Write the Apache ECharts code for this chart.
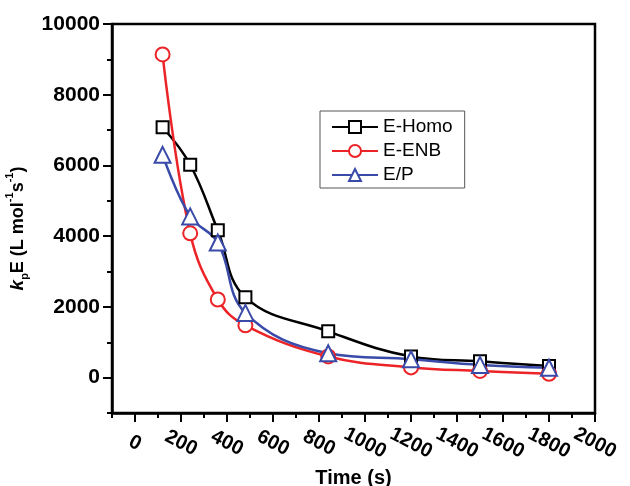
<!DOCTYPE html>
<html><head><meta charset="utf-8">
<script src="https://cdn.jsdelivr.net/npm/echarts@6/dist/echarts.min.js"></script>
<style>html,body{margin:0;padding:0;background:#fff}#c{width:630px;height:486px}</style>
</head><body><div id="c"></div>
<script>
const timeS = [120, 240, 360, 480, 840, 1200, 1500, 1800];
const eHomo = [7080, 6020, 4170, 2270, 1310, 600, 460, 330];
const eENB  = [9140, 4080, 2210, 1480, 600, 290, 190, 110];
const eP    = [6300, 4560, 3820, 1830, 690, 520, 360, 280];
const xLabelsA = [0,400,800,1200,1600,2000];
const xLabelsB = [200,600,1000,1400,1800];
const xMajor = [0,200,400,600,800,1000,1200,1400,1600,1800,2000];
const xMinor = [-100,100,300,500,700,900,1100,1300,1500,1700,1900];
const yMajor = [0,2000,4000,6000,8000,10000];
const yMinor = [-1000,1000,3000,5000,7000,9000];

const pairs = (ys) => timeS.map((t, i) => [t, ys[i]]);
const font = '"Liberation Sans", Arial, sans-serif';
const chart = echarts.init(document.getElementById('c'));
const plain = (v) => String(v);
const xLabelStyle = {rotate: -27, align: 'center', margin: 30, formatter: plain, hideOverlap: false,
  showMinLabel: true, showMaxLabel: true,
  fontFamily: font, fontWeight: 'bold', fontSize: 20, color: '#000'};
chart.setOption({
  animation: false,
  grid: {left: 112, top: 24, right: 35, bottom: 73, outerBoundsMode: 'none', containLabel: false,
    show: true, borderColor: '#000', borderWidth: 2.5, backgroundColor: 'transparent'},
  legend: {
    orient: 'vertical', left: 320, top: 111, padding: [6, 12, 3, 11],
    borderColor: '#555', borderWidth: 1, itemWidth: 46, itemHeight: 15, itemGap: 4,
    textStyle: {fontFamily: font, fontSize: 19, color: '#000', lineHeight: 20},
    data: ['E-Homo', 'E-ENB', 'E/P']
  },
  xAxis: [{
    type: 'value', min: -100, max: 2000, position: 'bottom',
    name: 'Time (s)', nameLocation: 'middle', nameGap: 51,
    nameTextStyle: {fontFamily: font, fontWeight: 'bold', fontSize: 20, color: '#000'},
    axisLine: {show: true, onZero: false, lineStyle: {color: '#000', width: 2.5}},
    axisTick: {show: true, customValues: xMajor, length: 9, lineStyle: {color: '#000', width: 2}},
    axisLabel: Object.assign({customValues: xLabelsA}, xLabelStyle),
    splitLine: {show: false}
  }, {
    type: 'value', min: -100, max: 2000, position: 'bottom',
    axisLine: {show: false, onZero: false},
    axisTick: {show: true, customValues: xMinor, length: 5, lineStyle: {color: '#000', width: 2}},
    axisLabel: Object.assign({customValues: xLabelsB}, xLabelStyle),
    splitLine: {show: false}
  }],
  yAxis: [{
    type: 'value', min: -1000, max: 10000, position: 'left',
    name: '{k|k}{sub|p}{n|E (L mol}{sup|-1}{n|s}{sup|-1}{n|)}',
    nameLocation: 'middle', nameRotate: 90, nameGap: 80,
    nameTextStyle: {
      fontFamily: font, fontWeight: 'bold', fontSize: 18, color: '#000', padding: [0, 20, 0, 0],
      rich: {
        k: {fontFamily: font, fontWeight: 'bold', fontStyle: 'italic', fontSize: 19, lineHeight: 26, verticalAlign: 'middle'},
        n: {fontFamily: font, fontWeight: 'bold', fontSize: 18, lineHeight: 26, verticalAlign: 'middle'},
        sub: {fontFamily: font, fontWeight: 'bold', fontSize: 11, lineHeight: 12, verticalAlign: 'bottom'},
        sup: {fontFamily: font, fontWeight: 'bold', fontSize: 11, lineHeight: 12, verticalAlign: 'top'}
      }
    },
    axisLine: {show: true, onZero: false, lineStyle: {color: '#000', width: 2.5}},
    axisTick: {show: true, customValues: yMajor, length: 9, lineStyle: {color: '#000', width: 2}},
    axisLabel: {customValues: yMajor, margin: 12, formatter: plain, showMaxLabel: true,
      fontFamily: font, fontWeight: 'bold', fontSize: 21, color: '#000'},
    splitLine: {show: false}
  }, {
    type: 'value', min: -1000, max: 10000, position: 'left',
    axisLine: {show: false, onZero: false},
    axisTick: {show: true, customValues: yMinor, length: 5, lineStyle: {color: '#000', width: 2}},
    axisLabel: {show: false}, splitLine: {show: false}
  }],
  series: [
    {name: 'E-Homo', type: 'line', smooth: 0.4, data: pairs(eHomo), symbol: 'rect', symbolSize: 12,
     itemStyle: {color: '#fff', borderColor: '#000', borderWidth: 2}, lineStyle: {color: '#000', width: 2.5}, color: '#000'},
    {name: 'E-ENB', type: 'line', smooth: 0.4, data: pairs(eENB), symbol: 'circle', symbolSize: 14,
     itemStyle: {color: '#fff', borderColor: '#ec2327', borderWidth: 2}, lineStyle: {color: '#ec2327', width: 2.5}, color: '#ec2327'},
    {name: 'E/P', type: 'line', smooth: 0.4, data: pairs(eP), symbol: 'triangle', symbolSize: 16,
     itemStyle: {color: '#fff', borderColor: '#3a4aa8', borderWidth: 2}, lineStyle: {color: '#3a4aa8', width: 2.5}, color: '#3a4aa8'}
  ]
});
</script></body></html>
